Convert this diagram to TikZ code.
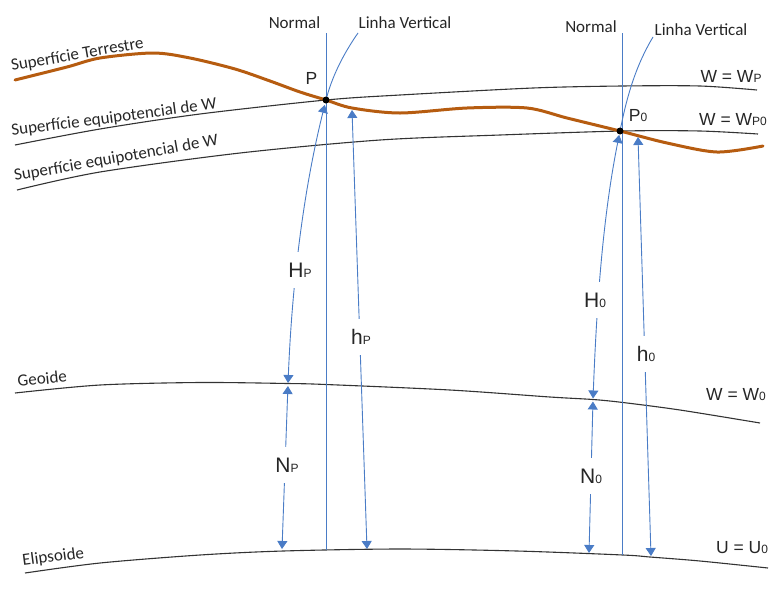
\documentclass[tikz,border=0pt]{standalone}
\usepackage{fontspec}
\setmainfont{Liberation Sans}
\newfontfamily\calib{Carlito}
\usetikzlibrary{arrows.meta}
\definecolor{lnblue}{HTML}{4A7CC6}
\definecolor{terra}{HTML}{B65C10}
\newcommand{\subsm}[1]{{\fontsize{12}{12}\selectfont #1}}
\begin{document}
\begin{tikzpicture}[x=1pt,y=-1pt,
  surf/.style={line width=1.1pt, draw=black!80},
  terrestre/.style={line width=3pt, draw=terra, line cap=round},
  bl/.style={draw=lnblue, line width=0.9pt},
  bla/.style={bl, {Triangle[width=10pt,length=8pt]}-{Triangle[width=10pt,length=8pt]}},
  callab/.style={font=\calib\fontsize{17}{17}\selectfont, inner sep=0pt, text=black!85},
  mlab/.style={font=\fontsize{17.5}{17.5}\selectfont, inner sep=0pt, text=black!85},
  biglab/.style={font=\fontsize{21}{21}\selectfont, fill=white, inner xsep=2pt, inner ysep=0pt, minimum height=36pt, text=black!85},
]
\useasboundingbox (0,0) rectangle (783,592);

% surfaces
\draw[surf] plot[smooth] coordinates {(15,145) (100,129) (200,114) (326,100) (400,95) (533,88) (622,86) (700,86) (757,90)};
\draw[surf] plot[smooth] coordinates {(17,190) (100,172) (240,153) (380,140) (500,135) (622,131) (700,131) (758,134)};
\draw[surf] plot[smooth] coordinates {(15,393) (100,385) (200,382.5) (288,383.5) (326,384.5) (450,390) (550,397) (593,399.5) (623,402.5) (680,410) (760,423)};
\draw[surf] plot[smooth] coordinates {(25,573) (100,563) (200,555) (283,551) (400,549) (517,551) (623,555) (650,557) (700,561) (768,568)};
\draw[terrestre] plot[smooth] coordinates {(15,80) (67,67) (100,58) (153,53) (190,58) (235,69) (270,81) (300,92) (326,100) (352,108) (400,113) (467,108) (527,108) (567,118) (620,131) (667,143) (717,152) (763,146)};

% key points
\coordinate (P) at (326,100);
\coordinate (P0) at (620,131);
\coordinate (gP) at (288,384);
\coordinate (g0) at (593,399.5);
\coordinate (eNP) at (282,549);
\coordinate (ehP) at (367,549);
\coordinate (sP) at (352,110);
\coordinate (eN0) at (589,553);
\coordinate (eh0) at (651,556);
\coordinate (s0) at (638,137);
\coordinate (lv1) at (358,33);
\coordinate (lv2) at (653,37);
\coordinate (nt1) at (326,33);
\coordinate (nb1) at (326,550);
\coordinate (nt2) at (622,33);
\coordinate (nb2) at (622,555);

% normals
\draw[bl] (nt1) -- (nb1);
\draw[bl] (nt2) -- (nb2);

% vertical lines and heights (left)
\draw[bl] (lv1) .. controls (342.6,55) and (331.5,78) .. (P);
\draw[bla, shorten <=5pt, shorten >=1pt] (P) .. controls (302.5,194) and (291.8,289) .. (gP);
\draw[bla, shorten <=2pt] (gP) -- (eNP);
\draw[bla] (sP) -- (ehP);

% vertical lines and heights (right)
\draw[bl] (lv2) .. controls (634.4,68) and (626.2,100) .. (P0);
\draw[bla, shorten <=4pt, shorten >=1pt] (P0) .. controls (602.4,219) and (596.5,308) .. (g0);
\draw[bla, shorten <=2pt] (g0) -- (eN0);
\draw[bla] (s0) -- (eh0);

% points
\fill[black] (P) circle (3.5pt);
\fill[black] (P0) circle (3.5pt);

% rotated surface labels
\node[callab, anchor=base west, rotate=10] (lterr) at (12,71) {Superfície Terrestre};
\node[callab, anchor=base west, rotate=7.5] (leq1) at (12,136) {Superfície equipotencial de W};
\node[callab, anchor=base west, rotate=10] (leq2) at (15,181) {Superfície equipotencial de W};
\node[callab, anchor=base west, rotate=6] (lgeo) at (18,387) {Geoide};
\node[callab, anchor=base west, rotate=7.5] (lell) at (23,566) {Elipsoide};

% line labels
\node[callab] (nl1) at (294.5,23) {Normal};
\node[callab] (lvl1) at (405,23) {Linha Vertical};
\node[callab] (nl2) at (591,27) {Normal};
\node[callab] (lvl2) at (701,30) {Linha Vertical};

% equation labels
\node[mlab] (wwp) at (731,76) {W = W\subsm{P}};
\node[mlab] (wwp0) at (733,120) {W = W\subsm{P0}};
\node[mlab] (ww0) at (736,395) {W = W\subsm{0}};
\node[mlab] (uu0) at (742,548) {U = U\subsm{0}};
\node[mlab] (lP) at (311.5,78.5) {P};
\node[mlab] (lP0) at (638,115.5) {P\subsm{0}};

% height labels
\node[biglab] (lHP) at (300,270) {H\subsm{P}};
\node[biglab] (lhP) at (361,336.5) {h\subsm{P}};
\node[biglab] (lNP) at (287,465) {N\subsm{P}};
\node[biglab] (lH0) at (595,300) {H\subsm{0}};
\node[biglab] (lh0) at (646,353.5) {h\subsm{0}};
\node[biglab] (lN0) at (591,476) {N\subsm{0}};
\end{tikzpicture}
\end{document}
